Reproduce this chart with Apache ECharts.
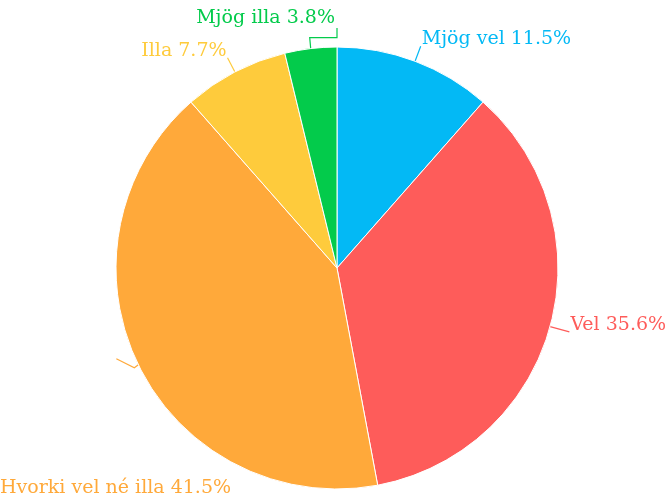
<!DOCTYPE html>
<html><head><meta charset="utf-8">
<script src="https://cdn.jsdelivr.net/npm/echarts@6/dist/echarts.min.js"></script>
<style>html,body{margin:0;padding:0;background:#fff}#c{width:666px;height:504px}</style>
</head><body><div id="c"></div>
<script>
var categories = ['Mjög vel', 'Vel', 'Hvorki vel né illa', 'Illa', 'Mjög illa'];
var values = [11.5, 35.6, 41.5, 7.7, 3.8];
var colors = ['#03b9f5', '#fe5c5a', '#ffa93a', '#fecb3c', '#03cb4b'];

var chart = echarts.init(document.getElementById('c'), null, {renderer: 'canvas'});
chart.setOption({
  animation: false,
  color: colors,
  series: [{
    type: 'pie',
    center: [337, 268],
    radius: 221,
    startAngle: 90,
    clockwise: true,
    avoidLabelOverlap: false,
    itemStyle: {borderColor: '#fff', borderWidth: 1},
    label: {
      formatter: function (p) { return p.name + ' ' + p.value + '%'; },
      fontFamily: 'DejaVu Serif',
      fontSize: 19,
      color: 'inherit',
      overflow: 'none',
      distanceToLabelLine: 1
    },
    labelLine: {length: 16, length2: 0, lineStyle: {width: 1.2}},
    labelLayout: function (p) {
      var lp = p.labelLinePoints;
      if (p.dataIndex === 2) {
        var a = lp[0];
        return {x: 0, y: 488, align: 'left', verticalAlign: 'middle',
          labelLinePoints: [a, [a[0] - 4, a[1] + 3], [a[0] - 22, a[1] - 6]]};
      }
      if (p.dataIndex === 4) {
        var s = lp[0], m = [lp[0][0] - 1, lp[0][1] - 11];
        return {x: 335, y: 18, align: 'right', verticalAlign: 'middle',
          labelLinePoints: [s, m, [337, m[1]], [337, 28]]};
      }
      return {dy: -7, labelLinePoints: lp};
    },
    data: categories.map(function (c, i) {
      var d = {name: c, value: values[i]};
      if (i === 1) d.labelLine = {length: 20};
      return d;
    })
  }]
});
</script></body></html>
